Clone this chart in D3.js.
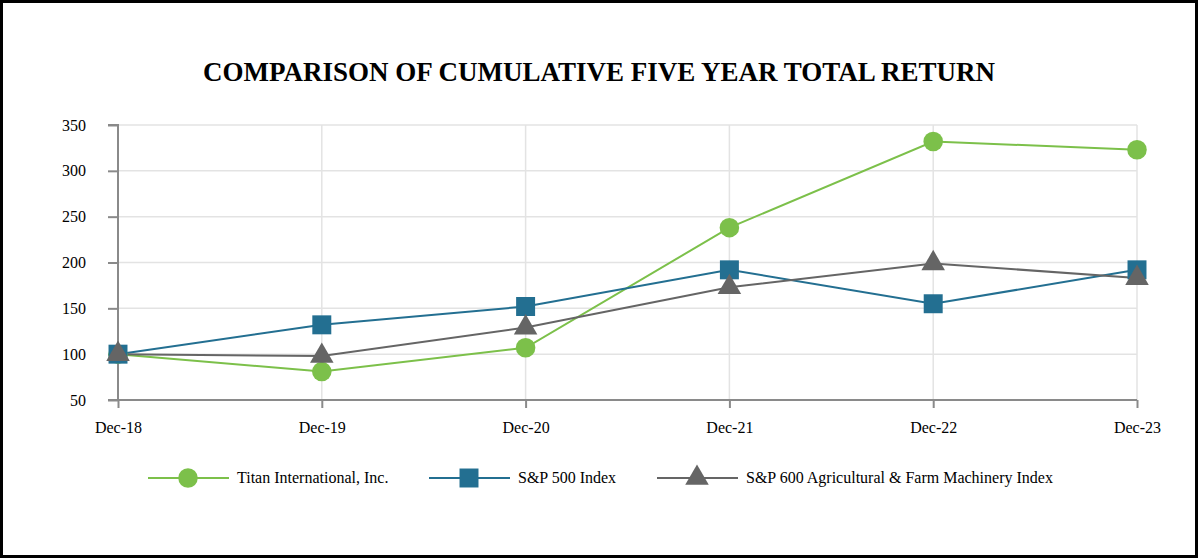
<!DOCTYPE html>
<html>
<head>
<meta charset="utf-8">
<script src="https://d3js.org/d3.v7.min.js"></script>
<style>
  body { margin: 0; background: white; }
  svg { display: block; }
  text { font-family: "Liberation Serif", "Times New Roman", serif; fill: #000; }
</style>
</head>
<body>
<svg id="chart" width="1200" height="560"></svg>
<script>
// data
var years = ["Dec-18", "Dec-19", "Dec-20", "Dec-21", "Dec-22", "Dec-23"];
var titan = [100, 81, 107, 238, 332, 323];
var sp500 = [100, 132, 152, 192, 155, 192];
var sp600ag = [100, 98, 129, 173, 199, 183];
var seriesNames = ["Titan International, Inc.", "S&P 500 Index", "S&P 600 Agricultural & Farm Machinery Index"];
var yTicks = [50, 100, 150, 200, 250, 300, 350];

var colors = ["#7cc04a", "#236f91", "#656565"];
var shapes = [d3.symbolCircle, d3.symbolSquare, d3.symbolTriangle];
var sizes = [300, 360, 240];

var svg = d3.select("#chart");

// frame
svg.append("rect")
  .attr("x", 1.5).attr("y", 1.5)
  .attr("width", 1195).attr("height", 555)
  .attr("fill", "white").attr("stroke", "#000").attr("stroke-width", 3);

// title
svg.append("text")
  .attr("x", 599).attr("y", 81)
  .attr("text-anchor", "middle")
  .style("font-size", "27px").style("font-weight", "bold")
  .text("COMPARISON OF CUMULATIVE FIVE YEAR TOTAL RETURN");

var x = d3.scalePoint().domain(years).range([118, 1137]);
var y = d3.scaleLinear().domain([50, 350]).range([400, 125]);

// grid
var g = svg.append("g");
g.selectAll(".hgrid").data(yTicks).enter().append("line")
  .attr("x1", 118).attr("x2", 1137)
  .attr("y1", function(d) { return y(d); }).attr("y2", function(d) { return y(d); })
  .attr("stroke", "#e3e3e3").attr("stroke-width", 1.5);
g.selectAll(".vgrid").data(years.slice(1)).enter().append("line")
  .attr("x1", function(d) { return x(d); }).attr("x2", function(d) { return x(d); })
  .attr("y1", y(350)).attr("y2", y(50))
  .attr("stroke", "#e3e3e3").attr("stroke-width", 1.5);

// axes
var yAxis = d3.axisLeft(y).tickValues(yTicks).tickSize(10).tickPadding(22);
var yG = svg.append("g").attr("transform", "translate(118,0)").call(yAxis);
var xAxis = d3.axisBottom(x).tickSize(8).tickPadding(14);
var xG = svg.append("g").attr("transform", "translate(0,400)").call(xAxis);
[yG, xG].forEach(function(a) {
  a.select(".domain").attr("stroke", "#8a8a8a").attr("stroke-width", 2);
  a.selectAll(".tick line").attr("stroke", "#8a8a8a").attr("stroke-width", 2);
  a.selectAll(".tick text").style("font-size", "16px")
    .style("font-family", "Liberation Serif, serif").attr("fill", "#000");
});
yG.selectAll(".tick line").attr("x2", -10);
yG.select(".domain").attr("d", "M-10," + y(350) + "H0V" + y(50) + "H-10");
xG.select(".domain").attr("d", "M108,0H1137");

// series
var allSeries = [titan, sp500, sp600ag];
var line = d3.line()
  .x(function(d, i) { return x(years[i]); })
  .y(function(d) { return y(d); });

allSeries.forEach(function(vals, k) {
  svg.append("path").datum(vals)
    .attr("d", line)
    .attr("fill", "none").attr("stroke", colors[k]).attr("stroke-width", 2);
});
allSeries.forEach(function(vals, k) {
  svg.selectAll(".m" + k).data(vals).enter().append("path")
    .attr("transform", function(d, i) { return "translate(" + x(years[i]) + "," + y(d) + ")"; })
    .attr("d", d3.symbol().type(shapes[k]).size(sizes[k]))
    .attr("fill", colors[k]);
});

// legend
var legendX = [148, 429, 657];
var leg = svg.append("g");
seriesNames.forEach(function(name, k) {
  var lx = legendX[k];
  leg.append("line")
    .attr("x1", lx).attr("x2", lx + 81).attr("y1", 478).attr("y2", 478)
    .attr("stroke", colors[k]).attr("stroke-width", 2);
  leg.append("path")
    .attr("transform", "translate(" + (lx + 40) + ",478)")
    .attr("d", d3.symbol().type(shapes[k]).size(sizes[k]))
    .attr("fill", colors[k]);
  leg.append("text")
    .attr("x", lx + 89).attr("y", 483)
    .style("font-size", "16px")
    .text(name);
});
</script>
</body>
</html>
